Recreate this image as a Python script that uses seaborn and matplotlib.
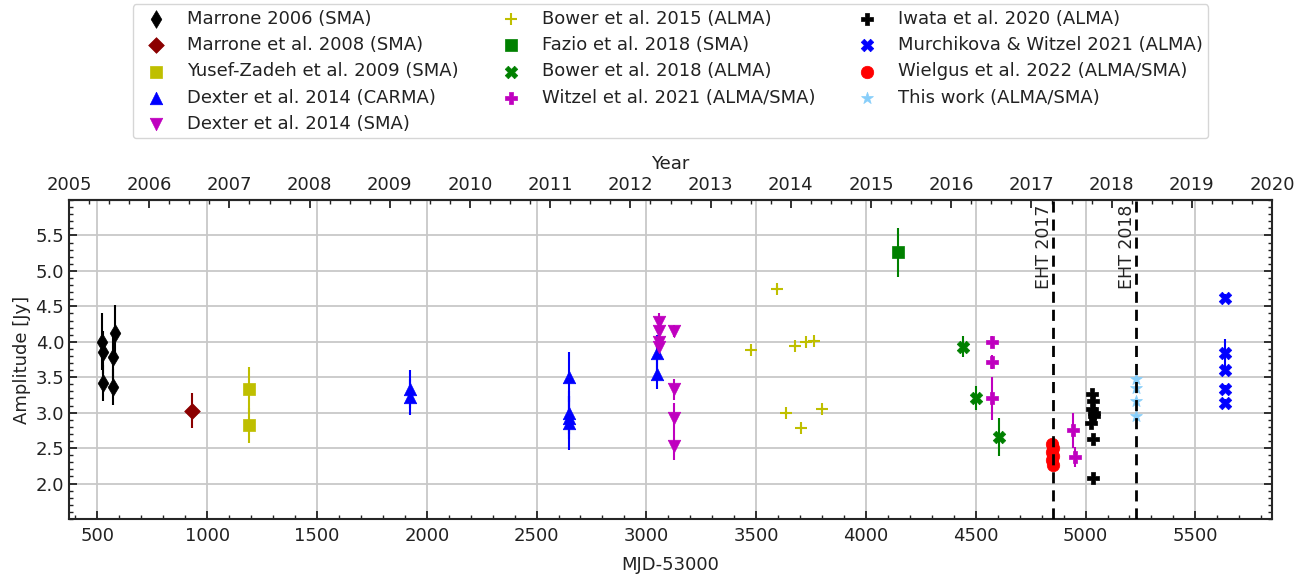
import numpy as np
import matplotlib
matplotlib.use("Agg")
import matplotlib.pyplot as plt
from matplotlib.ticker import MultipleLocator, AutoMinorLocator, FixedLocator
import seaborn as sns

# ---- light-curve amplitudes (MJD-53000, Jy, 1-sigma) ----
marrone06_mjd = [521, 527, 524, 571, 580, 571]
marrone06_amp = [4.00, 3.85, 3.42, 3.78, 4.12, 3.36]
marrone06_err = [0.40, 0.30, 0.25, 0.30, 0.40, 0.25]

marrone08_mjd = [933]
marrone08_amp = [3.03]
marrone08_err = [0.25]

yusef09_mjd = [1191, 1191]
yusef09_amp = [3.33, 2.82]
yusef09_err = [0.32, 0.25]

dexter_carma_mjd = [1923, 1923, 2647, 2647, 2647, 2647, 3047, 3047]
dexter_carma_amp = [3.33, 3.22, 3.50, 3.00, 2.93, 2.86, 3.84, 3.54]
dexter_carma_err = [0.27, 0.25, 0.35, 0.30, 0.30, 0.38, 0.25, 0.20]

dexter_sma_mjd = [3056, 3056, 3056, 3056, 3124, 3124, 3124, 3124]
dexter_sma_amp = [4.28, 4.15, 4.00, 3.93, 4.15, 3.33, 2.93, 2.53]
dexter_sma_err = [0.12, 0.12, 0.12, 0.15, 0.08, 0.15, 0.20, 0.20]

bower15_mjd = [3475, 3594, 3638, 3679, 3702, 3729, 3764, 3798]
bower15_amp = [3.88, 4.75, 3.00, 3.94, 2.79, 3.99, 4.01, 3.05]
bower15_err = [0.03, 0.03, 0.03, 0.03, 0.03, 0.03, 0.03, 0.03]

fazio18_mjd = [4147]
fazio18_amp = [5.26]
fazio18_err = [0.34]

bower18_mjd = [4442, 4501, 4605]
bower18_amp = [3.93, 3.21, 2.66]
bower18_err = [0.15, 0.17, 0.27]

witzel21_mjd = [4574, 4574, 4574, 4941, 4950]
witzel21_amp = [4.00, 3.71, 3.20, 2.75, 2.38]
witzel21_err = [0.08, 0.10, 0.30, 0.25, 0.14]

iwata20_mjd = [5030, 5034, 5028, 5040, 5026, 5038, 5036, 5034]
iwata20_amp = [3.26, 3.16, 3.05, 3.00, 2.86, 2.95, 2.63, 2.08]
iwata20_err = [0.05, 0.05, 0.05, 0.05, 0.05, 0.05, 0.05, 0.05]

murchikova21_mjd = [5635, 5635, 5635, 5635, 5635]
murchikova21_amp = [4.62, 3.84, 3.60, 3.34, 3.14]
murchikova21_err = [0.05, 0.20, 0.05, 0.05, 0.05]

wielgus22_mjd = [4848, 4850, 4849, 4851, 4849, 4850]
wielgus22_amp = [2.56, 2.50, 2.45, 2.39, 2.33, 2.26]
wielgus22_err = [0.04, 0.04, 0.04, 0.04, 0.04, 0.04]

thiswork_mjd = [5230, 5229, 5231, 5230]
thiswork_amp = [3.47, 3.35, 3.16, 2.95]
thiswork_err = [0.05, 0.05, 0.05, 0.05]

ehts_mjd = [4850, 5230]
ehts_label = ["EHT 2017", "EHT 2018"]

years = list(range(2005, 2021))

labels = [
    "Marrone 2006 (SMA)", "Marrone et al. 2008 (SMA)",
    "Yusef-Zadeh et al. 2009 (SMA)", "Dexter et al. 2014 (CARMA)",
    "Dexter et al. 2014 (SMA)", "Bower et al. 2015 (ALMA)",
    "Fazio et al. 2018 (SMA)", "Bower et al. 2018 (ALMA)",
    "Witzel et al. 2021 (ALMA/SMA)", "Iwata et al. 2020 (ALMA)",
    "Murchikova & Witzel 2021 (ALMA)", "Wielgus et al. 2022 (ALMA/SMA)",
    "This work (ALMA/SMA)",
]

sets = [
    (marrone06_mjd, marrone06_amp, marrone06_err),
    (marrone08_mjd, marrone08_amp, marrone08_err),
    (yusef09_mjd, yusef09_amp, yusef09_err),
    (dexter_carma_mjd, dexter_carma_amp, dexter_carma_err),
    (dexter_sma_mjd, dexter_sma_amp, dexter_sma_err),
    (bower15_mjd, bower15_amp, bower15_err),
    (fazio18_mjd, fazio18_amp, fazio18_err),
    (bower18_mjd, bower18_amp, bower18_err),
    (witzel21_mjd, witzel21_amp, witzel21_err),
    (iwata20_mjd, iwata20_amp, iwata20_err),
    (murchikova21_mjd, murchikova21_amp, murchikova21_err),
    (wielgus22_mjd, wielgus22_amp, wielgus22_err),
    (thiswork_mjd, thiswork_amp, thiswork_err),
]

# marker, colour, marker size (points)
styles = [
    ("d", "black", 9),
    ("D", "#8b0000", 8),
    ("s", "#bfbf00", 9),
    ("^", "blue", 9),
    ("v", "#bf00bf", 9),
    ("+", "#bfbf00", 8),
    ("s", "green", 9),
    ("X", "green", 9),
    ("P", "#bf00bf", 9),
    ("P", "black", 9),
    ("X", "blue", 9),
    ("o", "red", 9),
    ("*", "lightskyblue", 9),
]

FS = 13
sns.set_theme(style="ticks")
plt.rcParams["font.family"] = ["DejaVu Sans"]
plt.rcParams["axes.linewidth"] = 1.5

fig = plt.figure(figsize=(13.09, 5.79), dpi=100)
ax = fig.add_axes([0.0527, 0.1036, 0.9191, 0.551])


def mjd2year(x):
    return 2000.0 + (np.asarray(x) + 53000.0 - 51544.5) / 365.25


def year2mjd(y):
    return (np.asarray(y) - 2000.0) * 365.25 + 51544.5 - 53000.0


for (xs, ys, es), (mk, col, ms), lab in zip(sets, styles, labels):
    ax.errorbar(xs, ys, yerr=es, fmt="none", ecolor=col, elinewidth=1.5,
                capsize=0, zorder=2)
    lw = 1.5 if mk == "+" else 0.5
    sns.scatterplot(x=xs, y=ys, ax=ax, marker=mk, color=col, s=ms ** 2,
                    edgecolor=col, linewidth=lw, label=lab, zorder=3)

for xv, txt in zip(ehts_mjd, ehts_label):
    ax.axvline(xv, color="black", ls=(0, (4, 2.5)), lw=2, zorder=4)
    ax.text(xv + 2, 5.94, txt, rotation=90, ha="right", va="top",
            fontsize=12.5, color="#222222", zorder=5)

ax.set_xlim(year2mjd(2005), year2mjd(2020))
ax.set_ylim(1.5, 6.0)
ax.xaxis.set_major_locator(MultipleLocator(500))
ax.xaxis.set_minor_locator(AutoMinorLocator(5))
ax.yaxis.set_minor_locator(AutoMinorLocator(5))
ax.set_yticks([2.0, 2.5, 3.0, 3.5, 4.0, 4.5, 5.0, 5.5])
ax.grid(True, which="major", color="#c8c8c8", lw=1.3, zorder=0)
ax.tick_params(which="both", direction="in", left=True, right=True,
               bottom=True, top=False, labelsize=FS, color="#222222",
               labelcolor="#222222")
ax.tick_params(which="major", length=6, width=1.3)
ax.tick_params(which="minor", length=3, width=1.0)
ax.tick_params(axis="x", which="major", pad=6)
ax.set_xlabel("MJD-53000", fontsize=FS, color="#222222", labelpad=8)
ax.set_ylabel("Amplitude [Jy]", fontsize=FS, color="#222222", labelpad=3)

sec = ax.secondary_xaxis("top", functions=(mjd2year, year2mjd))
sec.xaxis.set_major_locator(FixedLocator(years))
sec.xaxis.set_minor_locator(AutoMinorLocator(4))
sec.tick_params(which="both", direction="in", labelsize=FS, color="#222222",
                labelcolor="#222222")
sec.tick_params(which="major", length=6, width=1.3, pad=4)
sec.tick_params(which="minor", length=3, width=1.0)
sec.set_xlabel("Year", fontsize=FS, color="#222222", labelpad=5)

leg = ax.legend(loc="lower center", bbox_to_anchor=(0.5, 1.165), ncol=3,
                fontsize=FS, labelspacing=0.46, columnspacing=1.9,
                handletextpad=0.7, handlelength=2.0, frameon=True,
                fancybox=True, borderpad=0.3)
leg.get_frame().set_edgecolor("#cccccc")
for t in leg.get_texts():
    t.set_color("#222222")

fig.savefig("out.png", dpi=100)
